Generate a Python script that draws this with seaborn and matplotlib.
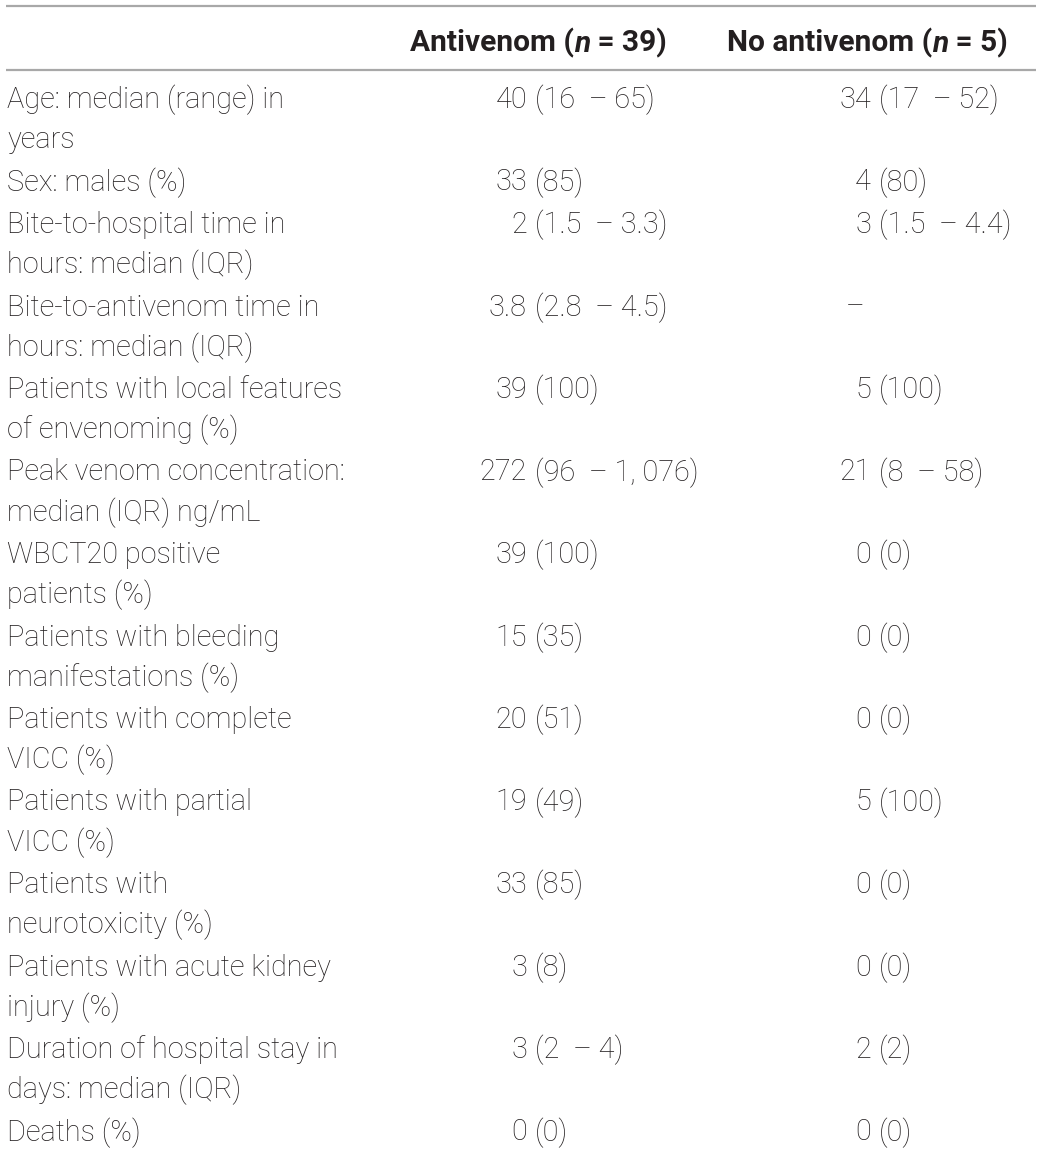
import matplotlib.pyplot as plt
import seaborn as sns

labels = [
    "Age: median (range) in\nyears",
    "Sex: males (%)",
    "Bite-to-hospital time in\nhours: median (IQR)",
    "Bite-to-antivenom time in\nhours: median (IQR)",
    "Patients with local features\nof envenoming (%)",
    "Peak venom concentration:\nmedian (IQR) ng/mL",
    "WBCT20 positive\npatients (%)",
    "Patients with bleeding\nmanifestations (%)",
    "Patients with complete\nVICC (%)",
    "Patients with partial\nVICC (%)",
    "Patients with\nneurotoxicity (%)",
    "Patients with acute kidney\ninjury (%)",
    "Duration of hospital stay in\ndays: median (IQR)",
    "Deaths (%)",
]
antivenom = [
    "40 (16  \u2013 65)", "33 (85)", "2 (1.5  \u2013 3.3)", "3.8 (2.8  \u2013 4.5)",
    "39 (100)", "272 (96  \u2013 1, 076)", "39 (100)", "15 (35)", "20 (51)",
    "19 (49)", "33 (85)", "3 (8)", "3 (2  \u2013 4)", "0 (0)",
]
no_antivenom = [
    "34 (17  \u2013 52)", "4 (80)", "3 (1.5  \u2013 4.4)", "\u2013",
    "5 (100)", "21 (8  \u2013 58)", "0 (0)", "0 (0)", "0 (0)",
    "5 (100)", "0 (0)", "0 (0)", "2 (2)", "0 (0)",
]
groups = ["Antivenom", "No antivenom"]
group_n = ["39", "5"]

sns.set_theme(style="white")
plt.rcParams["font.family"] = ["Roboto", "DejaVu Sans"]

ink = "#231f20"
rule = "#a8a8a8"
fs = 20.8
fs_head = 21.5

fig = plt.figure(figsize=(10.4, 11.54), dpi=100)
ax = fig.add_axes([0, 0, 1, 1])
ax.set_xlim(0, 1040)
ax.set_ylim(1154, 0)
ax.axis("off")

# rules
for y in (6, 70):
    ax.plot([6, 1036], [y, y], color=rule, lw=1.6, solid_capstyle="butt")

# header with italic n
for x0, g, n in zip((410, 727), groups, group_n):
    t = ax.text(x0, 51, f"{g} (", fontsize=fs_head, fontweight="bold",
                color=ink, va="baseline", ha="left")
    t = ax.annotate("n", xy=(1, 0), xycoords=t, fontsize=fs_head,
                    fontweight="bold", style="italic", color=ink,
                    va="bottom", ha="left")
    ax.annotate(f" = {n})", xy=(1, 0), xycoords=t, fontsize=fs_head,
                fontweight="bold", color=ink, va="bottom", ha="left")

# body rows
y = 100
for lab, a, b in zip(labels, antivenom, no_antivenom):
    lines = lab.split("\n")
    for i, ln in enumerate(lines):
        ax.text(7, y + i * 40, ln, fontsize=fs, fontweight="light",
                color=ink, va="center", ha="left")
    for anchor, val in ((527, a), (871, b)):
        head, _, tail = val.partition(" ")
        if not tail and not head[0].isdigit():
            # lone dash sits a little left in the source
            ax.text(anchor - 25, y, head, fontsize=fs, fontweight="light",
                    color=ink, va="center", ha="left")
            continue
        ax.text(anchor, y, head, fontsize=fs, fontweight="light",
                color=ink, va="center", ha="right")
        if tail:
            ax.text(anchor + 8, y, tail, fontsize=fs, fontweight="light",
                    color=ink, va="center", ha="left")
    y += 40 * (len(lines) - 1) + 42.5

fig.savefig("out.png", dpi=100, facecolor="white")
